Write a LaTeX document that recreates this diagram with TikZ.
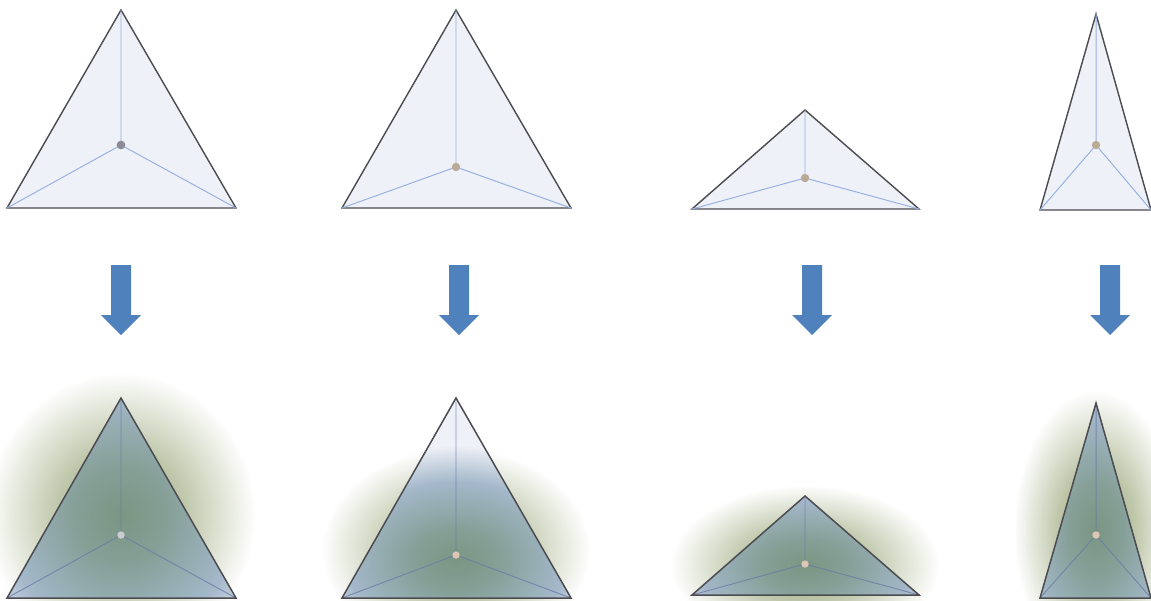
\documentclass[tikz,border=0pt]{standalone}
\usepackage{tikz}
\usetikzlibrary{calc}

\definecolor{trifill}{RGB}{239,241,248}
\definecolor{triedge}{RGB}{75,75,80}
\definecolor{spokeblue}{RGB}{150,176,226}
\definecolor{spokegray}{RGB}{105,122,165}
\definecolor{dotgray}{RGB}{140,140,152}
\definecolor{dottan}{RGB}{186,170,150}
\definecolor{dotpale}{RGB}{222,198,182}
\definecolor{arrowblue}{RGB}{79,129,189}
\definecolor{olivedeep}{RGB}{152,166,128}
\definecolor{olivemid}{RGB}{192,200,172}
\definecolor{greencore}{RGB}{122,150,130}
\definecolor{greenmid}{RGB}{134,160,152}
\definecolor{bluegray}{RGB}{164,184,202}

% glow outside the triangle, fading to the page
\pgfdeclareradialshading{glowout}{\pgfpoint{0bp}{0bp}}{%
  color(0bp)=(olivedeep); color(12bp)=(olivemid); color(25bp)=(white); color(50bp)=(white)}
% tint inside the triangle, fading to the light fill
\pgfdeclareradialshading{glowin}{\pgfpoint{0bp}{0bp}}{%
  color(0bp)=(greencore); color(7bp)=(greenmid); color(17bp)=(bluegray); color(25bp)=(trifill); color(50bp)=(trifill)}

\begin{document}
\begin{tikzpicture}[
    x=0.02cm, y=-0.02cm,
    tri/.style={fill=trifill,draw=triedge,line width=0.8pt,line join=miter},
    edge/.style={draw=triedge,line width=0.85pt},
    spoke/.style={draw=spokeblue,line width=0.55pt},
    fadedspoke/.style={draw=spokegray,line width=0.55pt,opacity=0.75},
    blockarr/.style={fill=arrowblue}
]
    \useasboundingbox (0,0) rectangle (1151,600);

    % top row
    \coordinate (ta1) at (121,10);   \coordinate (tl1) at (7,208);    \coordinate (tr1) at (236,208);  \coordinate (tc1) at (121,145);
    \coordinate (ta2) at (456,10);   \coordinate (tl2) at (342,208);  \coordinate (tr2) at (571,208);  \coordinate (tc2) at (456,167);
    \coordinate (ta3) at (805,110);  \coordinate (tl3) at (692,209);  \coordinate (tr3) at (919,209);  \coordinate (tc3) at (805,178);
    \coordinate (ta4) at (1096,14);  \coordinate (tl4) at (1040,210); \coordinate (tr4) at (1151,210); \coordinate (tc4) at (1096,145);

    \filldraw[tri] (ta1) -- (tl1) -- (tr1) -- cycle;
    \draw[spoke] (tc1) -- (ta1) (tc1) -- (tl1) (tc1) -- (tr1);
    \fill[dotgray] (tc1) circle (2.5pt);

    \filldraw[tri] (ta2) -- (tl2) -- (tr2) -- cycle;
    \draw[spoke] (tc2) -- (ta2) (tc2) -- (tl2) (tc2) -- (tr2);
    \fill[dottan] (tc2) circle (2.4pt);

    \filldraw[tri] (ta3) -- (tl3) -- (tr3) -- cycle;
    \draw[spoke] (tc3) -- (ta3) (tc3) -- (tl3) (tc3) -- (tr3);
    \fill[dottan] (tc3) circle (2.4pt);

    \filldraw[tri] (ta4) -- (tl4) -- (tr4) -- cycle;
    \draw[spoke] (tc4) -- (ta4) (tc4) -- (tl4) (tc4) -- (tr4);
    \fill[dottan] (tc4) circle (2.4pt);

    % arrows
    \fill[blockarr] (111,265) -- (131,265) -- (131,315) -- (141,315) -- (121,335) -- (101,315) -- (111,315) -- cycle;
    \fill[blockarr] (449,265) -- (469,265) -- (469,315) -- (479,315) -- (459,335) -- (439,315) -- (449,315) -- cycle;
    \fill[blockarr] (802,265) -- (822,265) -- (822,315) -- (832,315) -- (812,335) -- (792,315) -- (802,315) -- cycle;
    \fill[blockarr] (1100,265) -- (1120,265) -- (1120,315) -- (1130,315) -- (1110,335) -- (1090,315) -- (1100,315) -- cycle;

    % bottom row
    \coordinate (ba1) at (121,398);  \coordinate (bl1) at (7,598);    \coordinate (br1) at (236,598);  \coordinate (bc1) at (121,535);
    \coordinate (ba2) at (456,398);  \coordinate (bl2) at (342,598);  \coordinate (br2) at (571,598);  \coordinate (bc2) at (456,555);
    \coordinate (ba3) at (805,496);  \coordinate (bl3) at (692,595);  \coordinate (br3) at (919,595);  \coordinate (bc3) at (805,564);
    \coordinate (ba4) at (1096,403); \coordinate (bl4) at (1040,598); \coordinate (br4) at (1151,598); \coordinate (bc4) at (1096,535);

    % glows
    \shade[shading=glowout] (121,515) ellipse [x radius=2.7cm, y radius=2.85cm];
    \shade[shading=glowout] (456,550) ellipse [x radius=2.7cm, y radius=2.05cm];
    \shade[shading=glowout] (805,565) ellipse [x radius=2.7cm, y radius=1.6cm];
    \shade[shading=glowout] (1096,530) ellipse [x radius=1.65cm, y radius=2.8cm];

    \begin{scope}
        \clip (ba1) -- (bl1) -- (br1) -- cycle;
        \fill[trifill] (ba1) -- (bl1) -- (br1) -- cycle;
        \shade[shading=glowin] (121,515) ellipse [x radius=3.4cm, y radius=3.6cm];
    \end{scope}
    \begin{scope}
        \clip (ba2) -- (bl2) -- (br2) -- cycle;
        \fill[trifill] (ba2) -- (bl2) -- (br2) -- cycle;
        \shade[shading=glowin] (456,560) ellipse [x radius=3.2cm, y radius=2.3cm];
    \end{scope}
    \begin{scope}
        \clip (ba3) -- (bl3) -- (br3) -- cycle;
        \fill[trifill] (ba3) -- (bl3) -- (br3) -- cycle;
        \shade[shading=glowin] (805,565) ellipse [x radius=3.2cm, y radius=1.9cm];
    \end{scope}
    \begin{scope}
        \clip (ba4) -- (bl4) -- (br4) -- cycle;
        \fill[trifill] (ba4) -- (bl4) -- (br4) -- cycle;
        \shade[shading=glowin] (1096,530) ellipse [x radius=2.0cm, y radius=3.4cm];
    \end{scope}

    \draw[fadedspoke] (bc1) -- (ba1) (bc1) -- (bl1) (bc1) -- (br1);
    \draw[edge] (ba1) -- (bl1) -- (br1) -- cycle;
    \fill[dotgray!45] (bc1) circle (2.1pt);

    \draw[fadedspoke] (bc2) -- (ba2) (bc2) -- (bl2) (bc2) -- (br2);
    \draw[edge] (ba2) -- (bl2) -- (br2) -- cycle;
    \fill[dotpale] (bc2) circle (2.1pt);

    \draw[fadedspoke] (bc3) -- (ba3) (bc3) -- (bl3) (bc3) -- (br3);
    \draw[edge] (ba3) -- (bl3) -- (br3) -- cycle;
    \fill[dotpale] (bc3) circle (2.1pt);

    \draw[fadedspoke] (bc4) -- (ba4) (bc4) -- (bl4) (bc4) -- (br4);
    \draw[edge] (ba4) -- (bl4) -- (br4) -- cycle;
    \fill[dotpale] (bc4) circle (2.1pt);
\end{tikzpicture}
\end{document}
